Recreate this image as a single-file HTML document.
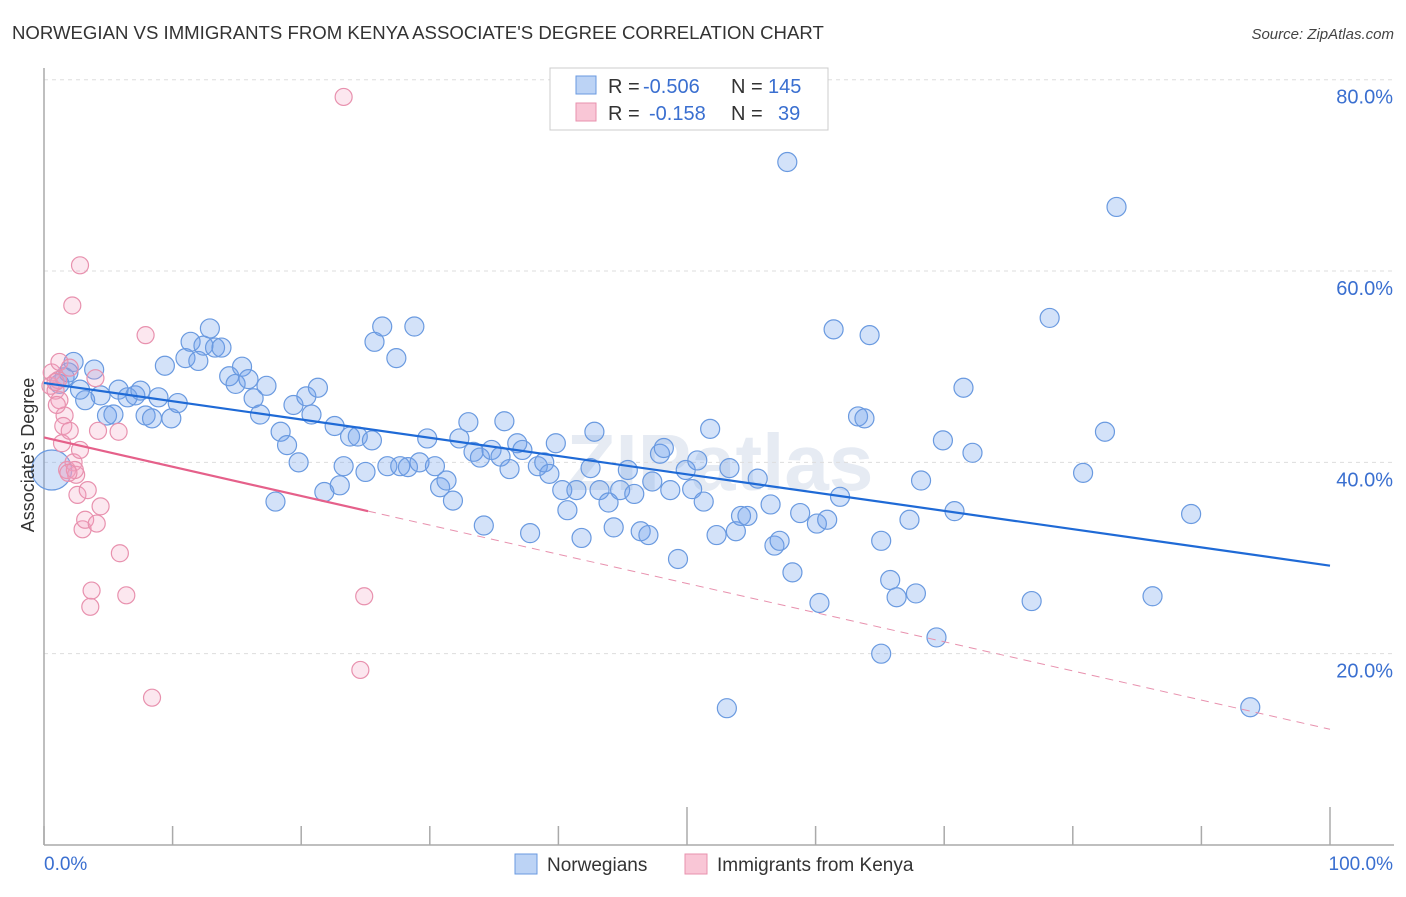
<!DOCTYPE html>
<html><head><meta charset="utf-8">
<style>
body{margin:0;background:#fff;font-family:"Liberation Sans",sans-serif;}
svg text{font-family:"Liberation Sans",sans-serif;}
</style></head>
<body>
<svg id="chart" width="1406" height="892" viewBox="0 0 1406 892" xmlns="http://www.w3.org/2000/svg">
<text x="12" y="39" font-size="18.6" fill="#333">NORWEGIAN VS IMMIGRANTS FROM KENYA ASSOCIATE'S DEGREE CORRELATION CHART</text>
<text x="1394" y="39" font-size="15" fill="#444" text-anchor="end" font-style="italic">Source: ZipAtlas.com</text>
<text x="720" y="490" font-size="80" fill="#e6ebf3" text-anchor="middle" font-weight="bold">ZIPatlas</text>
<g id="grid"></g>
<g id="axes"></g>
<g id="pts"></g>
<g id="trends"></g>
<text transform="translate(34,455) rotate(-90)" font-size="18" fill="#333" text-anchor="middle">Associate's Degree</text>
<g>
<rect x="550" y="68" width="278" height="62" fill="#fff" stroke="#ccc"/>
<rect x="576" y="76" width="20" height="18" fill="#bcd3f5" stroke="#6a9ae0"/>
<rect x="576" y="103" width="20" height="18" fill="#f9c6d6" stroke="#e891ae"/>
<text x="608" y="93" font-size="20" fill="#333">R =</text>
<text x="643" y="93" font-size="20" fill="#3a6fd0">-0.506</text>
<text x="731" y="93" font-size="20" fill="#333">N =</text>
<text x="768" y="93" font-size="20" fill="#3a6fd0">145</text>
<text x="608" y="120" font-size="20" fill="#333">R =</text>
<text x="649" y="120" font-size="20" fill="#3a6fd0">-0.158</text>
<text x="731" y="120" font-size="20" fill="#333">N =</text>
<text x="778" y="120" font-size="20" fill="#3a6fd0">39</text>
</g>
<g>
<rect x="515" y="854" width="22" height="20" fill="#bcd3f5" stroke="#6a9ae0"/>
<text x="547" y="871" font-size="19" fill="#333">Norwegians</text>
<rect x="685" y="854" width="22" height="20" fill="#f9c6d6" stroke="#e891ae"/>
<text x="717" y="871" font-size="19" fill="#333">Immigrants from Kenya</text>
</g>
</svg>
<script>
const yTicks=[20,40,60,80];
const yTickLabels=["20.0%","40.0%","60.0%","80.0%"];
const xTicks=[0,10,20,30,40,50,60,70,80,90,100];
const blueX=[0.6,1.2,1.6,1.9,2.3,3.2,3.9,2.8,4.4,4.9,5.4,5.8,6.5,7.1,7.5,7.9,8.4,8.9,9.4,9.9,10.4,11.0,11.4,12.0,12.4,12.9,13.3,13.8,14.4,14.9,15.4,15.9,16.3,16.8,17.3,18.0,18.4,18.9,19.4,19.8,20.4,20.8,21.3,21.8,22.6,23.0,23.3,23.8,24.4,25.0,25.5,25.7,26.3,26.7,27.4,27.7,28.3,28.8,29.2,29.8,30.4,30.8,31.3,31.8,32.3,33.0,33.4,33.9,34.2,34.8,35.5,35.8,36.2,36.8,37.2,37.8,38.4,38.9,39.3,39.8,40.3,40.7,41.4,41.8,42.5,42.8,43.2,43.9,44.3,44.8,45.4,45.9,46.4,47.0,47.3,47.9,48.2,48.7,49.3,49.9,50.4,50.8,51.3,51.8,52.3,53.1,53.3,53.8,54.2,54.7,55.5,56.5,56.8,57.2,57.8,58.2,58.8,60.1,60.3,60.9,61.4,61.9,63.3,63.8,64.2,65.1,65.1,65.8,66.3,67.3,67.8,68.2,69.4,69.9,70.8,71.5,72.2,76.8,78.2,80.8,82.5,83.4,86.2,89.2,93.8];
const blueY=[39.2,48.2,48.9,49.4,50.5,46.5,49.7,47.6,47.0,44.9,45.0,47.6,46.8,47.0,47.5,44.9,44.6,46.8,50.1,44.6,46.2,50.9,52.6,50.6,52.2,54.0,52.0,52.0,49.0,48.2,50.0,48.7,46.7,45.0,48.0,35.9,43.2,41.8,46.0,40.0,46.9,45.0,47.8,36.9,43.8,37.6,39.6,42.7,42.7,39.0,42.3,52.6,54.2,39.6,50.9,39.6,39.5,54.2,40.0,42.5,39.6,37.4,38.1,36.0,42.5,44.2,41.1,40.5,33.4,41.3,40.6,44.3,39.3,42.0,41.3,32.6,39.6,40.0,38.8,42.0,37.1,35.0,37.1,32.1,39.4,43.2,37.1,35.8,33.2,37.1,39.2,36.7,32.8,32.4,38.0,40.9,41.5,37.1,29.9,39.2,37.2,40.2,35.9,43.5,32.4,14.3,39.4,32.8,34.4,34.4,38.3,35.6,31.3,31.8,71.4,28.5,34.7,33.6,25.3,34.0,53.9,36.4,44.8,44.6,53.3,31.8,20.0,27.7,25.9,34.0,26.3,38.1,21.7,42.3,34.9,47.8,41.0,25.5,55.1,38.9,43.2,66.7,26.0,34.6,14.4];
const pinkX=[0.6,0.5,0.9,1.1,1.2,1.4,1.6,1.8,2.0,2.2,2.3,2.5,2.6,2.8,3.0,3.2,3.4,3.6,3.7,4.0,4.1,4.2,4.4,5.8,5.9,6.4,7.9,8.4,23.3,24.6,24.9,1.2,0.9,1.5,2.0,2.4,2.8,1.9,1.0];
const pinkY=[49.4,48.0,47.5,48.6,50.5,42.0,44.9,39.2,49.9,56.4,40.0,38.7,36.6,60.6,33.0,34.0,37.1,24.9,26.6,48.8,33.6,43.3,35.4,43.2,30.5,26.1,53.3,15.4,78.2,18.3,26.0,46.5,48.4,43.8,43.3,39.2,41.3,38.9,46.0];
const blueTrend=[[0,48.3],[100,29.2]];
const pinkTrend=[[0,42.6],[25.2,34.9],[100,12.1]];
const NS="http://www.w3.org/2000/svg";
const X0=44,X1=1330,Y0=845,YPER=9.566;
const sx=v=>X0+(X1-X0)*v/100, sy=v=>Y0-v*YPER;
function mk(t,a,p){const e=document.createElementNS(NS,t);for(const k in a)e.setAttribute(k,a[k]);p.appendChild(e);return e;}
const grid=document.getElementById('grid'),axes=document.getElementById('axes');
yTicks.forEach((t,i)=>{
 const l=mk('line',{x1:X0,x2:1394,y1:sy(t),y2:sy(t),stroke:'#ddd','stroke-dasharray':'4,4'},grid);
 
 
 const tx=mk('text',{x:1393,y:sy(t)+24,'font-size':20,fill:'#3a6fd0','text-anchor':'end'},axes);
 tx.textContent=yTickLabels[i];
 
 
});
mk('line',{x1:X0,x2:X0,y1:68,y2:Y0,stroke:'#aaa','stroke-width':1.5},axes);
mk('line',{x1:X0,x2:1394,y1:Y0,y2:Y0,stroke:'#aaa','stroke-width':1.5},axes);
xTicks.forEach(t=>{
 const tall=(t===50||t===100);
 const l=mk('line',{x1:sx(t),x2:sx(t),y1:tall?807:826,y2:Y0,stroke:'#aaa','stroke-width':1.5},axes);
 
 
});
const xl0=mk('text',{x:44,y:870,'font-size':19,fill:'#3a6fd0'},axes);xl0.textContent='0.0%';


const xl1=mk('text',{x:1393,y:870,'font-size':19,fill:'#3a6fd0','text-anchor':'end'},axes);xl1.textContent='100.0%';


const pts=document.getElementById('pts');
blueX.forEach((v,i)=>{
 if(blueY[i]===undefined)return;
 const c=mk('circle',{cx:sx(v),cy:sy(blueY[i]),r:i===0?20:9.5,fill:'rgba(110,160,235,0.3)',stroke:'#6a9ae0','stroke-width':1.2},pts);
 
 
});
pinkX.forEach((v,i)=>{
 const c=mk('circle',{cx:sx(v),cy:sy(pinkY[i]),r:8.5,fill:'rgba(245,160,190,0.25)',stroke:'#e891ae','stroke-width':1.2},pts);
 
 
});
const tr=document.getElementById('trends');
const bl=mk('line',{x1:sx(blueTrend[0][0]),y1:sy(blueTrend[0][1]),x2:sx(blueTrend[1][0]),y2:sy(blueTrend[1][1]),stroke:'#1f6ad6','stroke-width':2.2},tr);


const ps=mk('line',{x1:sx(pinkTrend[0][0]),y1:sy(pinkTrend[0][1]),x2:sx(pinkTrend[1][0]),y2:sy(pinkTrend[1][1]),stroke:'#e5608a','stroke-width':2.2},tr);


const pd=mk('line',{x1:sx(pinkTrend[1][0]),y1:sy(pinkTrend[1][1]),x2:sx(pinkTrend[2][0]),y2:sy(pinkTrend[2][1]),stroke:'#e891ae','stroke-width':1,'stroke-dasharray':'8,6'},tr);


</script>
</body></html>
